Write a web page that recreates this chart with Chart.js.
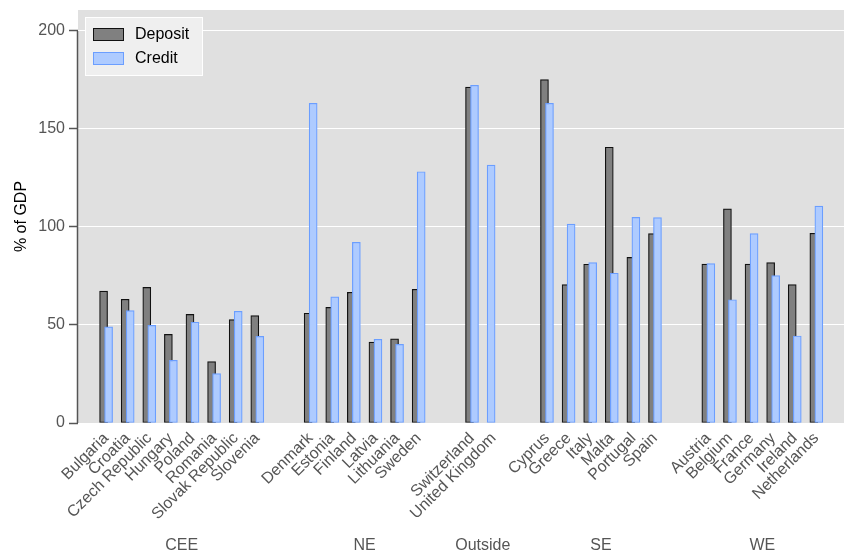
<!DOCTYPE html>
<html>
<head>
<meta charset="utf-8">
<title>Deposit and credit, % of GDP</title>
<script src="https://cdn.jsdelivr.net/npm/chart.js@4.4.0/dist/chart.umd.min.js"></script>
<style>
  html, body { margin: 0; padding: 0; background: #fff; }
</style>
</head>
<body>
<canvas id="chart" width="844" height="558"></canvas>
<script>
const countries = [
    'Bulgaria', 'Croatia', 'Czech Republic', 'Hungary', 'Poland', 'Romania', 'Slovak Republic', 'Slovenia',
    'Denmark', 'Estonia', 'Finland', 'Latvia', 'Lithuania', 'Sweden',
    'Switzerland', 'United Kingdom',
    'Cyprus', 'Greece', 'Italy', 'Malta', 'Portugal', 'Spain',
    'Austria', 'Belgium', 'France', 'Germany', 'Ireland', 'Netherlands'
];
const regions = [
    'CEE', 'CEE', 'CEE', 'CEE', 'CEE', 'CEE', 'CEE', 'CEE',
    'NE', 'NE', 'NE', 'NE', 'NE', 'NE',
    'Outside', 'Outside',
    'SE', 'SE', 'SE', 'SE', 'SE', 'SE',
    'WE', 'WE', 'WE', 'WE', 'WE', 'WE'
];
const deposit = [
    67.3, 63.1, 69.2, 45.2, 55.4, 31.3, 52.7, 54.8,
    56.0, 59.0, 66.7, 41.3, 42.9, 68.2,
    171.4, null,
    175.2, 70.6, 81.0, 140.7, 84.5, 96.6,
    81.1, 109.3, 81.1, 81.8, 70.6, 96.8
];
const credit = [
    49.1, 57.3, 49.8, 32.0, 51.4, 25.2, 57.0, 44.2,
    163.1, 64.4, 92.2, 42.7, 40.1, 128.2,
    172.3, 131.6,
    163.1, 101.5, 81.8, 76.4, 104.9, 104.8,
    81.3, 62.9, 96.6, 75.2, 44.4, 110.7
];
const yTicks = [0, 50, 100, 150, 200];

const GROUP_GAP = 2.47;   // slot distance between the last country of a region and the first of the next
const DODGE = 0.116;      // half the shift between the two overlapping bars, in slots
const FONT = 'Liberation Sans, Arial, sans-serif';
const TEXT_GREY = '#555555';

// slot position of every country along the x axis
const slots = [];
let shift = 0;
countries.forEach((c, i) => {
    if (i > 0 && regions[i] !== regions[i - 1]) shift += GROUP_GAP - 1;
    slots.push(i + shift);
});

const depositPoints = slots.map((s, i) => ({ x: s - DODGE, y: deposit[i] }));
// where there is no deposit figure the credit bar takes the first position
const creditPoints = slots.map((s, i) => ({ x: deposit[i] === null ? s - DODGE : s + DODGE, y: credit[i] }));

const regionNames = [...new Set(regions)];

const panelDecor = {
    id: 'panelDecor',
    beforeDraw(chart) {
        const { ctx, chartArea: a } = chart;
        ctx.save();
        ctx.fillStyle = '#e0e0e0';
        ctx.fillRect(a.left, a.top, a.right - a.left, a.bottom - a.top);
        ctx.restore();
    },
    afterDraw(chart) {
        const { ctx, chartArea: a } = chart;
        const xs = chart.scales.x, ys = chart.scales.y;
        ctx.save();

        // y axis line only across the labelled range
        ctx.strokeStyle = '#555555';
        ctx.lineWidth = 1.5;
        ctx.beginPath();
        ctx.moveTo(a.left - 0.5, ys.getPixelForValue(yTicks[yTicks.length - 1]));
        ctx.lineTo(a.left - 0.5, ys.getPixelForValue(0));
        ctx.stroke();

        // region names under the country labels
        ctx.fillStyle = TEXT_GREY;
        ctx.font = '16px ' + FONT;
        ctx.textAlign = 'center';
        ctx.textBaseline = 'middle';
        regionNames.forEach(r => {
            const idx = regions.map((g, i) => g === r ? i : -1).filter(i => i >= 0);
            const mid = (slots[idx[0]] + slots[idx[idx.length - 1]]) / 2;
            ctx.fillText(r, xs.getPixelForValue(mid), 546);
        });

        // legend box in the top left corner of the panel
        const lx = a.left + 7, ly = a.top + 7;
        ctx.fillStyle = '#efefef';
        ctx.fillRect(lx, ly, 118, 59);
        ctx.strokeStyle = '#ffffff';
        ctx.lineWidth = 1;
        ctx.strokeRect(lx + 0.5, ly + 0.5, 117, 58);
        chart.data.datasets.slice().sort((p, q) => q.order - p.order).forEach((ds, k) => {
            const sy = ly + 11 + k * 24;
            ctx.fillStyle = ds.backgroundColor;
            ctx.fillRect(lx + 8, sy, 31, 13);
            ctx.strokeStyle = ds.borderColor;
            ctx.strokeRect(lx + 8.5, sy + 0.5, 30, 12);
            ctx.fillStyle = '#000000';
            ctx.textAlign = 'left';
            ctx.fillText(ds.label, lx + 50, sy + 7);
        });
        ctx.restore();
    }
};

new Chart(document.getElementById('chart'), {
    type: 'bar',
    data: {
        datasets: [
            {
                label: 'Deposit',
                data: depositPoints,
                backgroundColor: '#808080',
                borderColor: '#111111',
                borderWidth: 1.2,
                borderSkipped: false,
                order: 1
            },
            {
                label: 'Credit',
                data: creditPoints,
                backgroundColor: '#aecbff',
                borderColor: '#6b9eff',
                borderWidth: 1.2,
                borderSkipped: false,
                order: 0
            }
        ]
    },
    options: {
        responsive: false,
        animation: false,
        barThickness: 8,
        grouped: false,
        layout: { padding: { top: 10, right: 0, bottom: 0, left: 0 } },
        plugins: {
            legend: { display: false },
            tooltip: { enabled: false }
        },
        scales: {
            x: {
                type: 'linear',
                offset: false,
                min: -1.3,
                max: slots[slots.length - 1] + 1.28,
                grid: { display: false, drawTicks: false },
                border: { display: false },
                afterBuildTicks: scale => { scale.ticks = slots.map(v => ({ value: v })); },
                afterFit: scale => { scale.height = 135; },
                ticks: {
                    autoSkip: false,
                    minRotation: 45,
                    maxRotation: 45,
                    padding: 6,
                    color: TEXT_GREY,
                    font: { family: FONT, size: 16 },
                    callback: (v, i) => countries[i]
                }
            },
            y: {
                min: 0,
                max: 210.7,
                afterBuildTicks: scale => { scale.ticks = yTicks.map(v => ({ value: v })); },
                afterFit: scale => {
                    scale.width = 78;
                    scale.paddingTop = 0;
                    scale.paddingBottom = 0;
                },
                grid: {
                    color: '#ffffff',
                    lineWidth: 1,
                    tickLength: 9,
                    tickColor: '#555555',
                    tickWidth: 1.5
                },
                border: { display: false },
                ticks: {
                    padding: 4,
                    color: TEXT_GREY,
                    font: { family: FONT, size: 16 }
                },
                title: {
                    display: true,
                    text: '% of GDP',
                    color: '#000000',
                    padding: { top: 12, bottom: 0 },
                    font: { family: FONT, size: 16 }
                }
            }
        }
    },
    plugins: [panelDecor]
});
</script>
</body>
</html>
